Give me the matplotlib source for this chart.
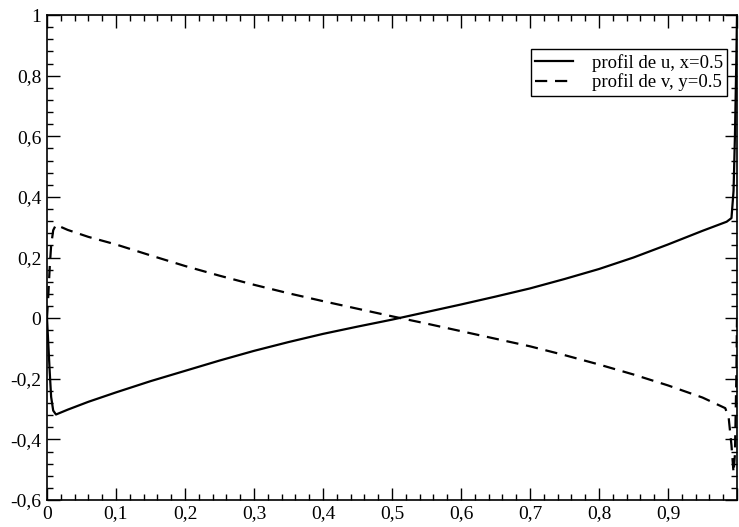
import matplotlib
matplotlib.use("Agg")
import matplotlib.pyplot as plt
from matplotlib.ticker import MultipleLocator, FuncFormatter

# profil de u le long de x=0.5 (abscisse = position)
u_pos = [0.0, 0.002, 0.004, 0.006, 0.009, 0.013, 0.03, 0.06, 0.1, 0.15, 0.2, 0.25, 0.3, 0.35,
         0.4, 0.45, 0.5, 0.55, 0.6, 0.65, 0.7, 0.75, 0.8, 0.85, 0.9, 0.95, 0.985, 0.992,
         0.995, 0.997, 0.999, 1.0]
u_val = [0.0, -0.09, -0.18, -0.26, -0.305, -0.318, -0.302, -0.276, -0.245, -0.208, -0.174,
         -0.14, -0.108, -0.079, -0.052, -0.028, -0.005, 0.02, 0.045, 0.071, 0.098, 0.129,
         0.162, 0.2, 0.243, 0.288, 0.318, 0.33, 0.42, 0.6, 0.85, 1.0]

# profil de v le long de y=0.5
v_pos = [0.0, 0.002, 0.004, 0.006, 0.009, 0.013, 0.03, 0.06, 0.1, 0.15, 0.2, 0.25, 0.3, 0.35,
         0.4, 0.45, 0.5, 0.55, 0.6, 0.65, 0.7, 0.75, 0.8, 0.85, 0.9, 0.95, 0.983, 0.988,
         0.992, 0.995, 0.997, 0.999, 1.0]
v_val = [0.0, 0.08, 0.17, 0.24, 0.29, 0.308, 0.291, 0.268, 0.243, 0.207, 0.172, 0.14,
         0.11, 0.082, 0.056, 0.031, 0.006, -0.018, -0.043, -0.068, -0.093, -0.122,
         -0.153, -0.186, -0.222, -0.262, -0.297, -0.33, -0.42, -0.51, -0.45, -0.2, 0.0]

labels = ["profil de u, x=0.5", "profil de v, y=0.5"]

plt.rcParams['font.family'] = ['Liberation Serif', 'DejaVu Serif']

fig = plt.figure(figsize=(7.39, 5.27), dpi=100)
ax = fig.add_axes([47/739, 1-500/527, 690/739, 485/527])

ax.plot(u_pos, u_val, color='black', lw=1.6, label=labels[0])
ax.plot(v_pos, v_val, color='black', lw=1.6, dashes=(5.5, 3.5), label=labels[1])

ax.set_xlim(0, 1)
ax.set_ylim(-0.6, 1)
ax.xaxis.set_major_locator(MultipleLocator(0.1))
ax.xaxis.set_minor_locator(MultipleLocator(0.02))
ax.yaxis.set_major_locator(MultipleLocator(0.2))
ax.yaxis.set_minor_locator(MultipleLocator(0.04))

def fmt(v, pos):
    if abs(v) < 1e-9:
        return "0"
    if abs(v - 1) < 1e-9:
        return "1"
    return f"{v:.1f}".replace(".", ",")

def xfmt(v, pos):
    if abs(v - 1) < 1e-9:
        return ""
    return fmt(v, pos)

ax.xaxis.set_major_formatter(FuncFormatter(xfmt))
ax.yaxis.set_major_formatter(FuncFormatter(fmt))

ax.tick_params(which='both', direction='in', top=True, right=True, width=1.0,
               labelsize=14, colors='black')
ax.tick_params(which='major', length=9, pad=4)
ax.tick_params(which='minor', length=4.5)
for s in ax.spines.values():
    s.set_linewidth(1.2)

leg = ax.legend(loc='upper right', bbox_to_anchor=(0.986, 0.93), fontsize=13.5,
                frameon=True, fancybox=False, framealpha=1, edgecolor='black',
                handlelength=2.0, borderpad=0.25, labelspacing=0.1, handletextpad=1.0,
                borderaxespad=0)
leg.get_frame().set_linewidth(1.0)

fig.savefig("out.png", dpi=100)
